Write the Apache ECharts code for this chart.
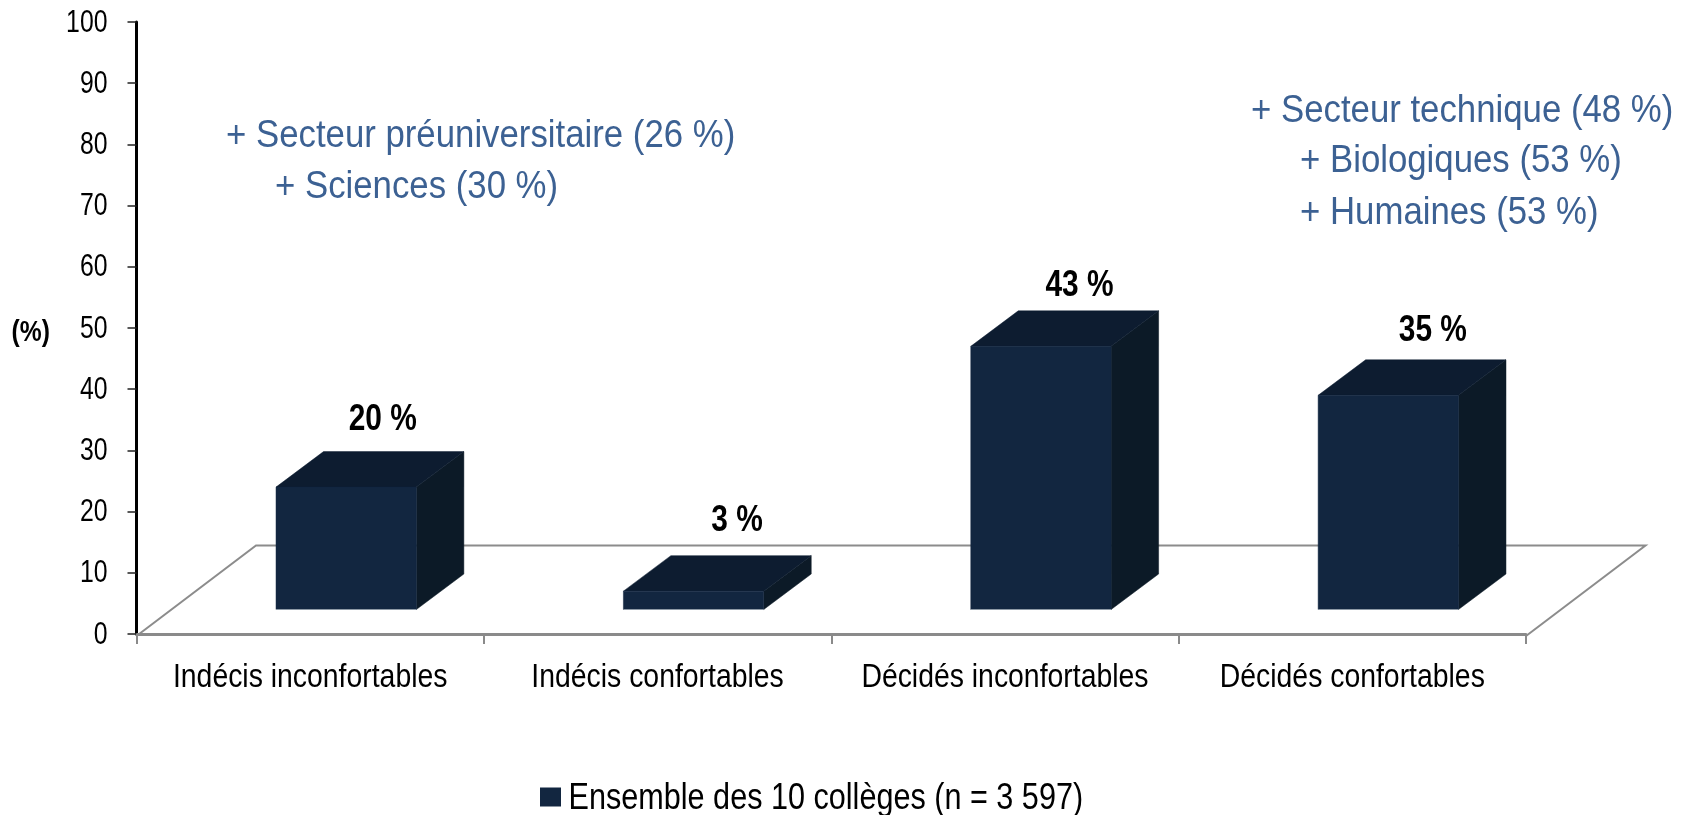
<!DOCTYPE html>
<html>
<head>
<meta charset="utf-8">
<style>html,body{margin:0;padding:0;background:#fff}#c{width:1692px;height:815px}</style>
<script src="https://cdn.jsdelivr.net/npm/echarts@6/dist/echarts.min.js"></script>
</head>
<body>
<div id="c"></div>
<script>
const categories = ['Indécis inconfortables', 'Indécis confortables', 'Décidés inconfortables', 'Décidés confortables'];
const values = [20, 3, 43, 35];
const seriesName = 'Ensemble des 10 collèges (n = 3 597)';
const leftNotes = ['+ Secteur préuniversitaire (26 %)', '+ Sciences (30 %)'];
const rightNotes = ['+ Secteur technique (48 %)', '+ Biologiques (53 %)', '+ Humaines (53 %)'];

const FONT = '"Liberation Sans", Arial, sans-serif';
const FLOOR_DX = 119.5, FLOOR_DY = 90.5, AXIS_OFFSET = 2;
const DEPTH_DX = 47.5, DEPTH_DY = 35.5, FRONT_DX = 36, FRONT_DY = 26.5, BAR_FRACTION = 0.404;
const COL_FRONT = '#122640', COL_TOP = '#0d1c30', COL_SIDE = '#0c1a27', COL_EDGE = '#8e9aa6';
const LABEL_DX = [-5, 2, -3, 3], LABEL_DY = [0, -3, 7, 3];
// horizontal condensation of the reference's squeezed text, by font size
const CONDENSE = { 31: 0.8, 33: 0.86, 36: 0.85, 29: 0.85 };
const TEXT_DROP = { 31: 1, 36: 2, 29: 5 };

function poly(points, fill) {
  return { type: 'polygon', shape: { points }, style: { fill, stroke: fill, lineWidth: 0.5 } };
}

function renderBar(params, api) {
  const band = api.size([1, 0])[0];
  const i = api.value(0), v = api.value(1);
  const zero = api.coord([i, 0]);
  const top = api.coord([i, v]);
  const w = band * BAR_FRACTION;
  const yShift = AXIS_OFFSET - FRONT_DY;
  const x0 = zero[0] + FRONT_DX - w / 2, x1 = x0 + w;
  const yb = zero[1] + yShift, yt = top[1] + yShift;
  const lx = (x0 + x1) / 2 + DEPTH_DX - 6 + LABEL_DX[i], ly = yt - DEPTH_DY - 32 + LABEL_DY[i];
  return {
    type: 'group',
    children: [
      poly([[x1, yb], [x1 + DEPTH_DX, yb - DEPTH_DY], [x1 + DEPTH_DX, yt - DEPTH_DY], [x1, yt]], COL_SIDE),
      poly([[x0, yt], [x0 + DEPTH_DX, yt - DEPTH_DY], [x1 + DEPTH_DX, yt - DEPTH_DY], [x1, yt]], COL_TOP),
      poly([[x0, yb], [x1, yb], [x1, yt], [x0, yt]], COL_FRONT),
      { type: 'line', shape: { x1: x0, y1: yb, x2: x1, y2: yb }, style: { stroke: COL_EDGE, lineWidth: 1 } },
      { type: 'text', x: lx, y: ly, scaleX: 0.83, style: {
          x: 0, y: 0, text: v + ' %', align: 'center', verticalAlign: 'middle',
          font: 'bold 36px ' + FONT, fill: '#000' } }
    ]
  };
}

function renderFloor(params) {
  const c = params.coordSys;
  const y = c.y + c.height + AXIS_OFFSET, x0 = c.x, x1 = c.x + c.width;
  return {
    type: 'polyline',
    shape: { points: [[x0, y], [x0 + FLOOR_DX, y - FLOOR_DY], [x1 + FLOOR_DX, y - FLOOR_DY], [x1, y]] },
    style: { stroke: '#8c8c8c', lineWidth: 2, fill: 'none' }
  };
}

function note(text, x, y) {
  return { type: 'text', x, y, scaleX: 0.915, style: { text, font: '38px ' + FONT, fill: '#3c6193', verticalAlign: 'middle' } };
}

const chart = echarts.init(document.getElementById('c'), null, { renderer: 'canvas' });
chart.setOption({
  animation: false,
  backgroundColor: '#fff',
  grid: { left: 136.5, right: 166, top: 22, bottom: 181, outerBoundsMode: 'none' },
  legend: {
    data: [seriesName], left: 540, top: 779, padding: 0, icon: 'rect', itemWidth: 21, itemHeight: 19,
    textStyle: { fontFamily: FONT, fontSize: 36, color: '#000', padding: [0, 0, 0, 3] }
  },
  xAxis: {
    type: 'category', data: categories, offset: AXIS_OFFSET,
    axisLine: { lineStyle: { color: '#8a8a8a', width: 3 } },
    axisTick: { show: true, length: 10, lineStyle: { color: '#8a8a8a', width: 2 } },
    axisLabel: { interval: 0, color: '#000', fontFamily: FONT, fontSize: 33, margin: 25 }
  },
  yAxis: {
    type: 'value', min: 0, max: 100, interval: 10,
    name: '(%)', nameLocation: 'middle', nameRotate: 0, nameGap: 84,
    nameTextStyle: { fontFamily: FONT, fontSize: 29, fontWeight: 'bold', color: '#000' },
    axisLine: { show: true, lineStyle: { color: '#000', width: 3 } },
    axisTick: { show: true, length: 9, lineStyle: { color: '#222', width: 1.5 } },
    axisLabel: { color: '#000', fontFamily: FONT, fontSize: 31, margin: 29 },
    splitLine: { show: false }
  },
  series: [
    { type: 'custom', name: 'floor', silent: true, z: 1, renderItem: renderFloor, data: [0], encode: { x: -1, y: -1 } },
    { type: 'custom', name: seriesName, z: 2, itemStyle: { color: COL_FRONT }, renderItem: renderBar,
      encode: { x: 0, y: 1 }, data: values.map((v, i) => [i, v]) }
  ],
  graphic: [
    note(leftNotes[0], 226, 137), note(leftNotes[1], 275, 188),
    note(rightNotes[0], 1251, 112), note(rightNotes[1], 1300, 162), note(rightNotes[2], 1300, 214)
  ]
});

// Squeeze axis, legend and name labels the way the reference's text is squeezed.
const zr = chart.getZr();
(function walk(list) {
  list.forEach(el => {
    if (el.type === 'text' && el.style && el.scaleX === 1 && CONDENSE[el.style.fontSize]) {
      el.originX = el.style.x || 0;
      el.scaleX = CONDENSE[el.style.fontSize];
      el.y += TEXT_DROP[el.style.fontSize] || 0;
      el.markRedraw();
    }
    if (el.isGroup) walk(el.children());
  });
})(zr.storage.getRoots());
zr.refresh();
</script>
</body>
</html>
